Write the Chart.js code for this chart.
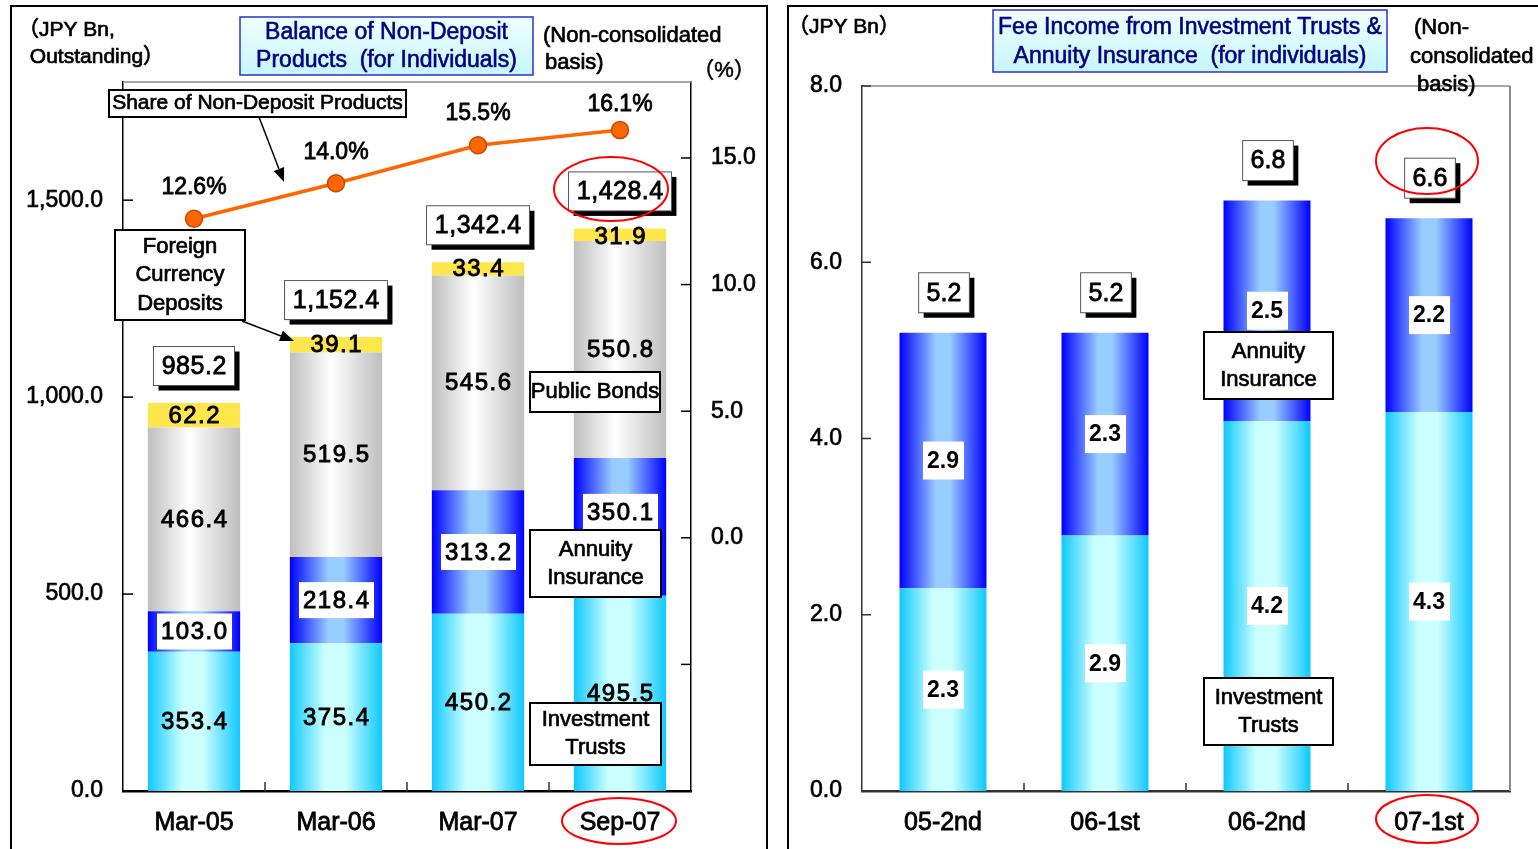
<!DOCTYPE html>
<html>
<head>
<meta charset="utf-8">
<script src="https://cdn.jsdelivr.net/npm/chart.js@4/dist/chart.umd.min.js"></script>
<style>
  html,body{margin:0;padding:0;background:#fff;width:1538px;height:849px;overflow:hidden;}
  #L{position:absolute;left:0;top:0;width:770px;height:849px;}
  #R{position:absolute;left:770px;top:0;width:768px;height:849px;}
  .panel{position:absolute;border:2px solid #000;border-bottom:none;}
</style>
</head>
<body>
<div class="panel" style="left:10px;top:5px;width:754px;height:900px;"></div>
<div class="panel" style="left:787px;top:5px;width:800px;height:900px;"></div>
<div id="L"><canvas id="c1" width="770" height="849"></canvas></div>
<div id="R"><canvas id="c2" width="768" height="849"></canvas></div>
<script>
// ---------------- DATA ----------------
const catsL = ['Mar-05', 'Mar-06', 'Mar-07', 'Sep-07'];
const invTrustsL = [353.4, 375.4, 450.2, 495.5];
const annuityL = [103.0, 218.4, 313.2, 350.1];
const publicBondsL = [466.4, 519.5, 545.6, 550.8];
const foreignDepL = [62.2, 39.1, 33.4, 31.9];
const totalsL = [985.2, 1152.4, 1342.4, 1428.4];
const sharePct = [12.6, 14.0, 15.5, 16.1];
const yTicksL = [0, 500, 1000, 1500];
const y1TicksL = [-10, -5, 0, 5, 10, 15];

const catsR = ['05-2nd', '06-1st', '06-2nd', '07-1st'];
const invTrustsR = [2.3, 2.9, 4.2, 4.3];
const annuityR = [2.9, 2.3, 2.5, 2.2];
const totalsR = [5.2, 5.2, 6.8, 6.6];
const yTicksR = [0, 2, 4, 6, 8];

// ---------------- STYLE ----------------
const FONT = '"Liberation Sans", Arial, "Noto Sans CJK JP", sans-serif';
const CYAN = [[0, '#10C8FF'], [0.38, '#CCFFFF'], [0.6, '#CCFFFF'], [1, '#10C8FF']];
const BLUE = [[0, '#0000FF'], [0.42, '#99CCFF'], [0.58, '#99CCFF'], [1, '#0000FF']];
const GRAY = [[0, '#BEBEBE'], [0.45, '#FFFFFF'], [1, '#BEBEBE']];
const YELLOW = '#FFE64D';

function barGrad(stops, pct) {
  return (c) => {
    const chart = c.chart, xs = chart.scales.x;
    if (!chart.chartArea || !xs || c.dataIndex === undefined) return stops[0][1];
    const cx = xs.getPixelForValue(c.dataIndex);
    const w = xs.width / chart.data.labels.length * pct;
    const g = chart.ctx.createLinearGradient(cx - w / 2, 0, cx + w / 2, 0);
    stops.forEach(([o, col]) => g.addColorStop(o, col));
    return g;
  };
}
function fnt(sz, w) { return (w || 'normal') + ' ' + sz + 'px ' + FONT; }
function txt(ctx, s, x, y, sz, o = {}) {
  ctx.save();
  ctx.font = fnt(sz, o.weight);
  ctx.fillStyle = o.color || '#000';
  ctx.textAlign = o.align || 'center';
  ctx.textBaseline = 'middle';
  if (o.ls) ctx.letterSpacing = o.ls + 'px';
  const dx = (o.ls && (o.align || 'center') === 'center') ? o.ls / 2 : 0;
  ctx.fillText(s, x + dx, y);
  if (o.stroke) { ctx.strokeStyle = ctx.fillStyle; ctx.lineWidth = o.stroke; ctx.strokeText(s, x + dx, y); }
  ctx.restore();
}
function measure(ctx, s, sz, o = {}) {
  ctx.save(); ctx.font = fnt(sz, o.weight); if (o.ls) ctx.letterSpacing = o.ls + 'px';
  const w = ctx.measureText(s).width; ctx.restore(); return w;
}
function line(ctx, x1, y1, x2, y2, col, lw) {
  ctx.save(); ctx.beginPath(); ctx.moveTo(x1, y1); ctx.lineTo(x2, y2);
  ctx.strokeStyle = col; ctx.lineWidth = lw; ctx.stroke(); ctx.restore();
}
function rect(ctx, x, y, w, h, fill, stroke, lw) {
  ctx.save();
  if (fill) { ctx.fillStyle = fill; ctx.fillRect(x, y, w, h); }
  if (stroke) { ctx.strokeStyle = stroke; ctx.lineWidth = lw || 1; ctx.strokeRect(x, y, w, h); }
  ctx.restore();
}
function arrow(ctx, x1, y1, x2, y2) {
  const a = Math.atan2(y2 - y1, x2 - x1), L = 14, H = 5.5;
  const bx = x2 - L * Math.cos(a), by = y2 - L * Math.sin(a);
  line(ctx, x1, y1, bx, by, '#000', 1.5);
  ctx.save(); ctx.beginPath(); ctx.moveTo(x2, y2);
  ctx.lineTo(bx + H * Math.sin(a), by - H * Math.cos(a));
  ctx.lineTo(bx - H * Math.sin(a), by + H * Math.cos(a));
  ctx.closePath(); ctx.fillStyle = '#000'; ctx.fill(); ctx.restore();
}
function ellipse(ctx, cx, cy, rx, ry) {
  ctx.save(); ctx.beginPath(); ctx.ellipse(cx, cy, rx, ry, 0, 0, Math.PI * 2);
  ctx.strokeStyle = '#FF0000'; ctx.lineWidth = 2; ctx.stroke(); ctx.restore();
}
function noteBox(ctx, lines, x, y, w, h, sz, lh) {
  rect(ctx, x, y, w, h, '#fff', '#000', 2);
  const cx = x + w / 2, cy = y + h / 2;
  lines.forEach((s, i) => txt(ctx, s, cx, cy + (i - (lines.length - 1) / 2) * lh, sz, { stroke: 0.7 }));
}
function shadowBox(ctx, s, cx, cy, sz, h, pad, ls) {
  const tw = measure(ctx, s, sz, { ls });
  const w = tw + pad * 2;
  const x = cx - w / 2, y = cy - h / 2;
  rect(ctx, x + 5, y + 5, w, h, '#000');
  rect(ctx, x, y, w, h, '#fff', '#555', 1);
  txt(ctx, s, cx, cy + 1, sz, { stroke: 0.8, ls });
}
function titleBox(ctx, lines, x, y, w, h, lh) {
  ctx.save();
  const g = ctx.createLinearGradient(0, y, 0, y + h);
  g.addColorStop(0, '#F0FFFF'); g.addColorStop(1, '#C6F6FF');
  ctx.fillStyle = g; ctx.fillRect(x, y, w, h);
  ctx.strokeStyle = '#2F2FC8'; ctx.lineWidth = 1.5; ctx.strokeRect(x, y, w, h);
  ctx.restore();
  lines.forEach((s, i) => txt(ctx, s, x + w / 2, y + h / 2 + (i - (lines.length - 1) / 2) * lh + 1, 23, { color: '#000080', stroke: 0.6 }));
}
const fmtL = v => v.toLocaleString('en-US', { minimumFractionDigits: 1, maximumFractionDigits: 1 });

// ---------------- LEFT CHART ----------------
const PCT_L = 0.65;
const decorL = {
  id: 'decorL',
  afterDraw(chart) {
    const ctx = chart.ctx, a = chart.chartArea, xs = chart.scales.x, ys = chart.scales.y, y1 = chart.scales.y1;
    line(ctx, a.left, a.top, a.right, a.top, '#8A8A8A', 1.5);
    yTicksL.forEach(v => { const p = ys.getPixelForValue(v); line(ctx, a.left, p, a.left + 10, p, '#000', 1.5); });
    y1TicksL.forEach(v => { const p = y1.getPixelForValue(v); line(ctx, a.right - 10, p, a.right, p, '#000', 1.5); });
    for (let i = 1; i < catsL.length; i++) {
      const xb = (xs.getPixelForValue(i - 1) + xs.getPixelForValue(i)) / 2;
      line(ctx, xb, a.bottom, xb, a.bottom - 9, '#333', 1.5);
    }
    // segment labels
    const shiftL = [[0, 0, 0, 0], [0, 0, 0, -15], [0, 0, 0, 0], [0, 0, 0, 2]];
    for (let d = 1; d <= 4; d++) {
      const meta = chart.getDatasetMeta(d);
      meta.data.forEach((el, j) => {
        const v = chart.data.datasets[d].data[j];
        const s = v.toFixed(1);
        const cy = (el.y + el.base) / 2 + shiftL[d - 1][j];
        if (d === 2) rect(ctx, el.x - 37, cy - 18, 75, 36, '#fff');
        txt(ctx, s, el.x, cy + 1, 24, { stroke: 0.9, ls: 1.5 });
      });
    }
    // totals
    const top = chart.getDatasetMeta(4);
    top.data.forEach((el, j) => shadowBox(ctx, fmtL(totalsL[j]), el.x, el.y - 37, 25, 39, 8, 0.5));
    // percent labels
    const pctOff = [31, 31, 32, 25];
    chart.getDatasetMeta(0).data.forEach((pt, j) => txt(ctx, sharePct[j].toFixed(1) + '%', pt.x, pt.y - pctOff[j], 23, { stroke: 0.8 }));
    // annotations
    noteBox(ctx, ['Share of Non-Deposit Products'], 109, 90, 297, 27, 21, 0);
    arrow(ctx, 259, 117, 284, 182);
    noteBox(ctx, ['Foreign', 'Currency', 'Deposits'], 115, 230, 130, 90, 22, 28.5);
    arrow(ctx, 242, 321, 294, 341);
    noteBox(ctx, ['Public Bonds'], 530, 372, 130, 40, 22, 0);
    noteBox(ctx, ['Annuity', 'Insurance'], 530, 530, 131, 67, 22, 28);
    noteBox(ctx, ['Investment', 'Trusts'], 530, 703, 131, 62, 22, 28);
    ellipse(ctx, 611, 189, 57, 32);
    ellipse(ctx, 619, 821, 57, 23);
    // titles
    txt(ctx, '（JPY Bn,', 18, 30, 21, { align: 'left', stroke: 0.7 });
    txt(ctx, ' Outstanding）', 24, 57, 21, { align: 'left', stroke: 0.7 });
    titleBox(ctx, ['Balance of Non-Deposit', 'Products  (for Individuals)'], 240, 17, 293, 58, 28);
    txt(ctx, '(Non-consolidated', 543, 36, 22, { align: 'left', stroke: 0.7 });
    txt(ctx, 'basis)', 545, 63, 22, { align: 'left', stroke: 0.7 });
    txt(ctx, '（%）', 724, 71, 22, { stroke: 0.5 });
  }
};

new Chart(document.getElementById('c1'), {
  data: {
    labels: catsL,
    datasets: [
      { type: 'line', label: 'Share of Non-Deposit Products', data: sharePct, yAxisID: 'y1', order: 0,
        borderColor: '#FF6600', borderWidth: 3.5, tension: 0,
        pointRadius: 8.5, pointHoverRadius: 8.5, pointBackgroundColor: '#FF6600', pointBorderColor: '#C44A00', pointBorderWidth: 1.5 },
      { type: 'bar', label: 'Investment Trusts', data: invTrustsL, yAxisID: 'y', stack: 's', order: 1, backgroundColor: barGrad(CYAN, PCT_L) },
      { type: 'bar', label: 'Annuity Insurance', data: annuityL, yAxisID: 'y', stack: 's', order: 1, backgroundColor: barGrad(BLUE, PCT_L) },
      { type: 'bar', label: 'Public Bonds', data: publicBondsL, yAxisID: 'y', stack: 's', order: 1, backgroundColor: barGrad(GRAY, PCT_L) },
      { type: 'bar', label: 'Foreign Currency Deposits', data: foreignDepL, yAxisID: 'y', stack: 's', order: 1, backgroundColor: YELLOW }
    ]
  },
  options: {
    responsive: false, animation: false, devicePixelRatio: 1,
    layout: { padding: { top: 82, left: 0, right: 0, bottom: 0 } },
    plugins: { legend: { display: false }, tooltip: { enabled: false } },
    datasets: { bar: { categoryPercentage: 1, barPercentage: PCT_L } },
    scales: {
      x: {
        stacked: true, offset: true,
        grid: { display: false, drawTicks: false },
        border: { color: '#000', width: 2.5 },
        ticks: { color: '#000', font: { family: FONT, size: 25 }, padding: 17, textStrokeColor: '#000', textStrokeWidth: 0.8 },
        afterFit(s) { s.height = 58; }
      },
      y: {
        stacked: true, position: 'left', min: 0, max: 1800,
        grid: { display: false, drawTicks: false },
        border: { color: '#000', width: 1.5 },
        afterBuildTicks(s) { s.ticks = yTicksL.map(v => ({ value: v })); },
        ticks: { color: '#000', font: { family: FONT, size: 23 }, padding: 20, callback: v => fmtL(v), textStrokeColor: '#000', textStrokeWidth: 0.7 },
        afterFit(s) { s.width = 123; }
      },
      y1: {
        position: 'right', min: -10, max: 18,
        grid: { display: false, drawTicks: false },
        border: { color: '#000', width: 1.5 },
        afterBuildTicks(s) { s.ticks = y1TicksL.map(v => ({ value: v })); },
        ticks: { color: '#000', font: { family: FONT, size: 23 }, padding: 20, callback: v => v >= 0 ? v.toFixed(1) : '', textStrokeColor: '#000', textStrokeWidth: 0.7 },
        afterFit(s) { s.width = 79; }
      }
    }
  },
  plugins: [decorL]
});

// ---------------- RIGHT CHART ----------------
const PCT_R = 0.537;
const decorR = {
  id: 'decorR',
  afterDraw(chart) {
    const ctx = chart.ctx, a = chart.chartArea, xs = chart.scales.x, ys = chart.scales.y;
    line(ctx, a.left, a.top, a.right, a.top, '#8A8A8A', 1.5);
    line(ctx, a.right, a.top, a.right, a.bottom, '#8A8A8A', 2);
    yTicksR.forEach(v => { const p = ys.getPixelForValue(v); line(ctx, a.left, p, a.left + 9, p, '#333', 1.5); });
    for (let i = 1; i < catsR.length; i++) {
      const xb = (xs.getPixelForValue(i - 1) + xs.getPixelForValue(i)) / 2;
      line(ctx, xb, a.bottom, xb, a.bottom - 8, '#333', 1.5);
    }
    for (let d = 0; d <= 1; d++) {
      chart.getDatasetMeta(d).data.forEach((el, j) => {
        const v = chart.data.datasets[d].data[j];
        const cy = (el.y + el.base) / 2;
        rect(ctx, el.x - 20, cy - 19, 41, 38, '#fff');
        txt(ctx, v.toFixed(1), el.x, cy + 1, 23, { weight: 'bold' });
      });
    }
    chart.getDatasetMeta(1).data.forEach((el, j) => shadowBox(ctx, totalsR[j].toFixed(1), el.x + 1, el.y - 40, 25, 40, 8, 0));
    noteBox(ctx, ['Annuity', 'Insurance'], 434, 332, 129, 67, 22, 28);
    noteBox(ctx, ['Investment', 'Trusts'], 434, 678, 129, 67, 22, 28);
    ellipse(ctx, 657, 161, 51, 33);
    ellipse(ctx, 657, 819, 51, 24);
    txt(ctx, '（JPY Bn）', 18, 27, 21, { align: 'left', stroke: 0.7 });
    titleBox(ctx, ['Fee Income from Investment Trusts &', 'Annuity Insurance  (for individuals)'], 223, 10, 394, 62, 29);
    txt(ctx, '(Non-', 644, 28, 22, { align: 'left', stroke: 0.7 });
    txt(ctx, 'consolidated', 640, 57, 22, { align: 'left', stroke: 0.7 });
    txt(ctx, 'basis)', 647, 85, 22, { align: 'left', stroke: 0.7 });
  }
};

new Chart(document.getElementById('c2'), {
  type: 'bar',
  data: {
    labels: catsR,
    datasets: [
      { label: 'Investment Trusts', data: invTrustsR, stack: 's', backgroundColor: barGrad(CYAN, PCT_R) },
      { label: 'Annuity Insurance', data: annuityR, stack: 's', backgroundColor: barGrad(BLUE, PCT_R) }
    ]
  },
  options: {
    responsive: false, animation: false, devicePixelRatio: 1,
    layout: { padding: { top: 86, left: 0, right: 28, bottom: 0 } },
    plugins: { legend: { display: false }, tooltip: { enabled: false } },
    datasets: { bar: { categoryPercentage: 1, barPercentage: PCT_R } },
    scales: {
      x: {
        stacked: true,
        grid: { display: false, drawTicks: false },
        border: { color: '#333', width: 2.5 },
        ticks: { color: '#000', font: { family: FONT, size: 25 }, padding: 17, textStrokeColor: '#000', textStrokeWidth: 0.8 },
        afterFit(s) { s.height = 58; }
      },
      y: {
        stacked: true, min: 0, max: 8,
        grid: { display: false, drawTicks: false },
        border: { color: '#333', width: 1.5 },
        afterBuildTicks(s) { s.ticks = yTicksR.map(v => ({ value: v })); },
        ticks: { color: '#000', font: { family: FONT, size: 23 }, padding: 20, callback: v => v.toFixed(1), textStrokeColor: '#000', textStrokeWidth: 0.7 },
        afterFit(s) { s.width = 92; }
      }
    }
  },
  plugins: [decorR]
});
</script>
</body>
</html>
